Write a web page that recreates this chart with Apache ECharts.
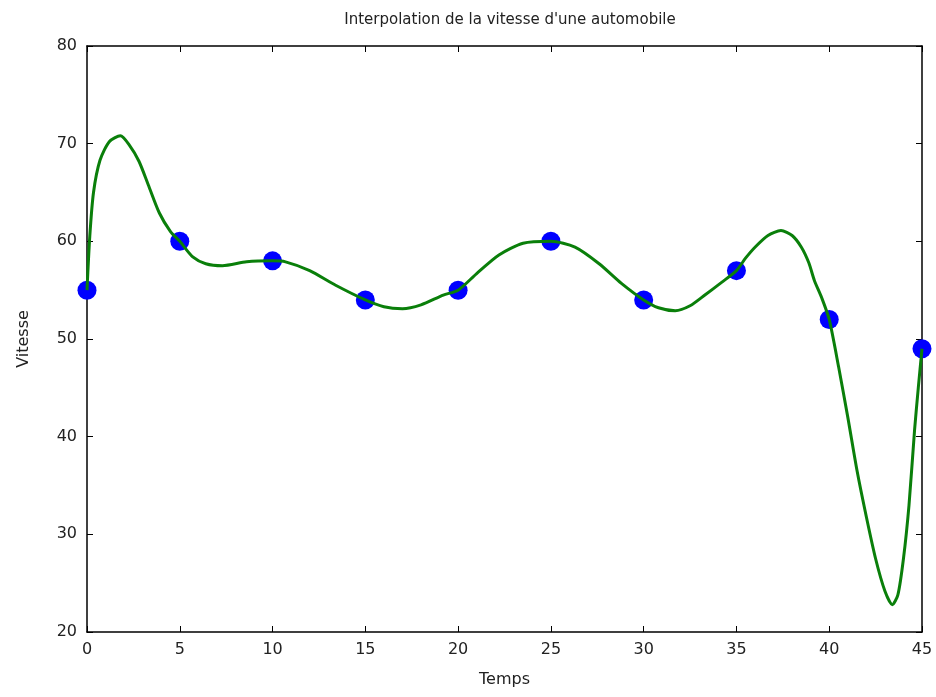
<!DOCTYPE html>
<html>
<head>
<meta charset="utf-8">
<script src="https://cdn.jsdelivr.net/npm/echarts@6/dist/echarts.min.js"></script>
<style>html,body{margin:0;padding:0;background:#fff}#c{width:936px;height:697px}</style>
</head>
<body>
<div id="c"></div>
<script>
const titleText = "Interpolation de la vitesse d'une automobile";
const xName = "Temps";
const yName = "Vitesse";
const xTicks = [0, 5, 10, 15, 20, 25, 30, 35, 40, 45];
const yTicks = [20, 30, 40, 50, 60, 70, 80];
// measured points
const pointTimes = [0, 5, 10, 15, 20, 25, 30, 35, 40, 45];
const pointSpeeds = [55, 60, 58, 54, 55, 60, 54, 57, 52, 49];
// interpolating curve
const curveTimes = [0, 0.15, 0.35, 0.7, 1.2, 1.8, 2.3, 2.8, 3.3, 3.9, 4.5, 5.0, 5.7, 6.4, 7.3, 8.6, 10, 10.7, 12, 13.4, 15, 16, 17, 18, 19.2, 20, 21, 22.2, 23.5, 25, 26.3, 27.6, 28.8, 30, 30.8, 31.7, 32.5, 33.3, 34.2, 35, 35.5, 36, 36.7, 37.4, 38, 38.5, 38.9, 39.2, 39.6, 40, 40.5, 41, 41.5, 42, 42.5, 43, 43.4, 43.7, 44, 44.3, 44.6, 44.8, 45];
const curveSpeeds = [55, 60.5, 65, 68.3, 70.2, 70.8, 69.8, 68.2, 65.8, 62.9, 61.0, 60, 58.4, 57.7, 57.5, 57.9, 58.0, 57.9, 57.0, 55.5, 54, 53.3, 53.1, 53.5, 54.5, 55, 56.7, 58.6, 59.8, 60, 59.4, 57.7, 55.7, 54, 53.2, 52.9, 53.4, 54.5, 55.8, 57, 58.3, 59.4, 60.6, 61.1, 60.6, 59.4, 57.8, 56.0, 54.2, 52, 47.2, 42, 36.5, 31.8, 27.5, 24.2, 22.8, 23.8, 27.5, 33, 40.7, 45, 49];

const font = 'DejaVu Sans';
const txt = '#222';
const chart = echarts.init(document.getElementById('c'));
const tickCommon = {show: true, inside: true, length: 6, lineStyle: {color: '#000', width: 1}};
const lineCommon = {show: true, onZero: false, lineStyle: {color: '#000', width: 1.5}};
chart.setOption({
  animation: false,
  title: {text: titleText, left: 505, top: 8, textAlign: 'center',
    textStyle: {fontFamily: font, fontSize: 15, fontWeight: 'normal', color: txt}},
  grid: {left: 87, right: 14, top: 46, bottom: 65, containLabel: false},
  xAxis: [{
    type: 'value', min: 0, max: 45, interval: 5, position: 'bottom',
    name: xName, nameLocation: 'middle', nameGap: 40,
    nameTextStyle: {fontFamily: font, fontSize: 16, color: txt},
    axisLine: lineCommon, axisTick: tickCommon, splitLine: {show: false},
    axisLabel: {fontFamily: font, fontSize: 16, color: txt, margin: 10,
      customValues: xTicks}
  }, {
    type: 'value', min: 0, max: 45, interval: 5, position: 'top',
    axisLine: lineCommon, axisTick: tickCommon, splitLine: {show: false},
    axisLabel: {show: false}
  }],
  yAxis: [{
    type: 'value', min: 20, max: 80, interval: 10, position: 'left',
    name: yName, nameLocation: 'middle', nameGap: 55, nameRotate: 90,
    nameTextStyle: {fontFamily: font, fontSize: 16, color: txt},
    axisLine: lineCommon, axisTick: tickCommon, splitLine: {show: false},
    axisLabel: {fontFamily: font, fontSize: 16, color: txt, margin: 10,
      customValues: yTicks}
  }, {
    type: 'value', min: 20, max: 80, interval: 10, position: 'right',
    axisLine: lineCommon, axisTick: tickCommon, splitLine: {show: false},
    axisLabel: {show: false}
  }],
  series: [{
    type: 'scatter', xAxisIndex: 0, yAxisIndex: 0,
    data: pointTimes.map((t, i) => [t, pointSpeeds[i]]),
    symbol: 'circle', symbolSize: 19, clip: false,
    itemStyle: {color: '#0000ff', opacity: 1}, z: 2
  }, {
    type: 'line', xAxisIndex: 0, yAxisIndex: 0,
    data: curveTimes.map((t, i) => [t, curveSpeeds[i]]),
    smooth: 0.25, showSymbol: false, clip: false,
    lineStyle: {color: '#0a7f0a', width: 3}, z: 5
  }]
});
</script>
</body>
</html>
